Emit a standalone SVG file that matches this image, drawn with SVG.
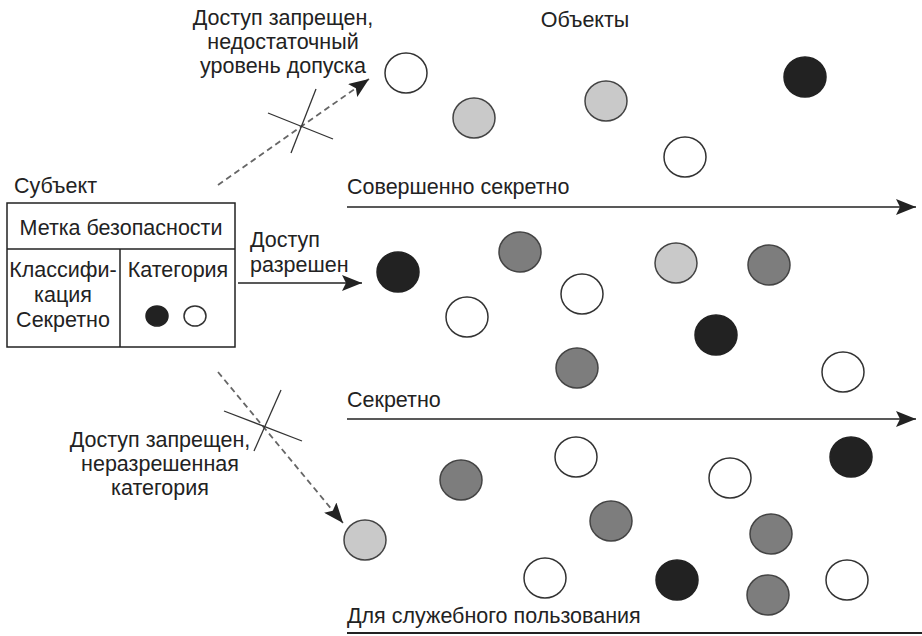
<svg xmlns="http://www.w3.org/2000/svg" width="922" height="636" viewBox="0 0 922 636">
<style>
text{font-family:"Liberation Sans",Arial,sans-serif;font-size:21.5px;fill:#222}
.c{text-anchor:middle}
.w{fill:#fff;stroke:#333;stroke-width:1.5}
.l{fill:#c9c9c9;stroke:#444;stroke-width:1.5}
.m{fill:#7d7d7d;stroke:#444;stroke-width:1.5}
.d{fill:#222;stroke:#222;stroke-width:1.5}
.ln{stroke:#222;stroke-width:1.5;fill:none}
.ds{stroke:#666;stroke-width:1.8;stroke-dasharray:6 4;fill:none}
.x{stroke:#333;stroke-width:1.3}
.box{fill:#fff;stroke:#222;stroke-width:1.5}
</style>
<defs>
<marker id="ah" markerUnits="userSpaceOnUse" markerWidth="22" markerHeight="16" refX="20" refY="8" orient="auto">
<path d="M0,0 L20,8 L0,16 L4,8 Z" fill="#222"/>
</marker>
</defs>
<rect width="922" height="636" fill="#fff"/>

<g id="subject">
<text x="14" y="193">Субъект</text>
<rect class="box" x="7" y="203" width="228" height="144"/>
<line class="ln" x1="7" y1="249" x2="235" y2="249"/>
<line class="ln" x1="120" y1="249" x2="120" y2="347"/>
<text class="c" x="121" y="235">Метка безопасности</text>
<text class="c" x="63" y="277">Классифи-</text>
<text class="c" x="63" y="302">кация</text>
<text class="c" x="63" y="327">Секретно</text>
<text class="c" x="178" y="277">Категория</text>
<ellipse class="d" cx="157" cy="316" rx="11" ry="10"/>
<ellipse class="w" cx="195" cy="316" rx="11" ry="10"/>
</g>

<g id="labels">
<text class="c" x="283" y="25">Доступ запрещен,</text>
<text class="c" x="283" y="49">недостаточный</text>
<text class="c" x="283" y="73">уровень допуска</text>
<text class="c" x="585" y="27">Объекты</text>
<text x="250" y="247">Доступ</text>
<text x="250" y="272">разрешен</text>
<text class="c" x="160" y="447">Доступ запрещен,</text>
<text class="c" x="160" y="471">неразрешенная</text>
<text class="c" x="160" y="495">категория</text>
</g>

<g id="levels">
<text x="347" y="194">Совершенно секретно</text>
<line class="ln" x1="347" y1="207" x2="916" y2="207" marker-end="url(#ah)"/>
<text x="347" y="407">Секретно</text>
<line class="ln" x1="347" y1="419" x2="916" y2="419" marker-end="url(#ah)"/>
<text x="347" y="623">Для служебного пользования</text>
<line class="ln" x1="347" y1="633" x2="922" y2="633" style="stroke-width:2"/>
</g>

<g id="connectors">
<line class="ds" x1="218" y1="185" x2="369" y2="79" marker-end="url(#ah)"/>
<line class="x" x1="316" y1="89" x2="291" y2="153"/>
<line class="x" x1="268" y1="113" x2="333" y2="139"/>
<line class="ln" x1="238" y1="283" x2="362" y2="283" marker-end="url(#ah)"/>
<line class="ds" x1="218" y1="372" x2="343" y2="523" marker-end="url(#ah)"/>
<line class="x" x1="281" y1="390" x2="254" y2="451"/>
<line class="x" x1="224" y1="411" x2="302" y2="441"/>
</g>

<g id="objects-top">
<ellipse class="w" cx="406" cy="73" rx="21" ry="20"/>
<ellipse class="l" cx="474" cy="118" rx="21" ry="20"/>
<ellipse class="l" cx="606" cy="101" rx="21" ry="20"/>
<ellipse class="d" cx="805" cy="77" rx="21" ry="20"/>
<ellipse class="w" cx="685" cy="157" rx="21" ry="20"/>
</g>
<g id="objects-secret">
<ellipse class="d" cx="398" cy="272" rx="21" ry="20"/>
<ellipse class="m" cx="520" cy="252" rx="21" ry="20"/>
<ellipse class="w" cx="467" cy="317" rx="21" ry="20"/>
<ellipse class="w" cx="582" cy="294" rx="21" ry="20"/>
<ellipse class="l" cx="676" cy="263" rx="21" ry="20"/>
<ellipse class="m" cx="769" cy="265" rx="21" ry="20"/>
<ellipse class="d" cx="716" cy="335" rx="21" ry="20"/>
<ellipse class="m" cx="577" cy="368" rx="21" ry="20"/>
<ellipse class="w" cx="843" cy="372" rx="21" ry="20"/>
</g>
<g id="objects-dsp">
<ellipse class="l" cx="365" cy="540" rx="21" ry="20"/>
<ellipse class="m" cx="461" cy="480" rx="21" ry="20"/>
<ellipse class="w" cx="576" cy="457" rx="21" ry="20"/>
<ellipse class="m" cx="611" cy="521" rx="21" ry="20"/>
<ellipse class="w" cx="730" cy="478" rx="21" ry="20"/>
<ellipse class="d" cx="851" cy="457" rx="21" ry="20"/>
<ellipse class="m" cx="771" cy="534" rx="21" ry="20"/>
<ellipse class="w" cx="545" cy="578" rx="21" ry="20"/>
<ellipse class="d" cx="677" cy="580" rx="21" ry="20"/>
<ellipse class="m" cx="768" cy="595" rx="21" ry="20"/>
<ellipse class="w" cx="847" cy="580" rx="21" ry="20"/>
</g>
</svg>
